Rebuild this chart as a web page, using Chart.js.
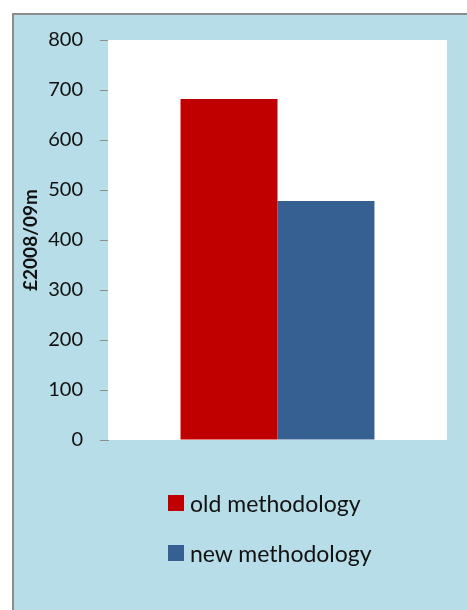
<!DOCTYPE html>
<html>
<head>
<meta charset="utf-8">
<script src="https://cdn.jsdelivr.net/npm/chart.js@4"></script>
<style>
  html, body { margin: 0; padding: 0; background: #fff; }
  #frame {
    position: absolute; left: 12px; top: 13px; width: 470px; height: 610px;
    background: #b7dde8; border-left: 2px solid #8c8c8c; border-top: 2px solid #8c8c8c;
  }
  #wrap { position: absolute; left: 0; top: 0; width: 467px; height: 610px; }
  #legend { position: absolute; left: 168px; top: 487px; font-family: Lato, "Open Sans", sans-serif; font-size: 23px; color: #111; }
  #legend div { display: flex; align-items: center; height: 32px; margin-bottom: 18px; }
  #legend span.box { width: 16px; height: 16px; margin-right: 6px; }
</style>
</head>
<body>
<div id="frame"></div>
<div id="wrap"><canvas id="c" width="467" height="610"></canvas></div>
<div id="legend"></div>
<script>
// ── DATA ─────────────────────────────────────────────
const categories = [""]
const seriesNames = ["old methodology", "new methodology"]
const oldValues = [682]
const newValues = [478]
const seriesColors = ["#c00000", "#376092"]
const yTicks = [0, 100, 200, 300, 400, 500, 600, 700, 800]

// white plot area behind the bars
const plotBg = {
  id: "plotBg",
  beforeDatasetsDraw(chart) {
    const a = chart.chartArea, ctx = chart.ctx
    ctx.save()
    ctx.fillStyle = "#ffffff"
    ctx.fillRect(a.left, a.top, a.right - a.left, a.bottom - a.top)
    ctx.restore()
  }
}

const chart = new Chart(document.getElementById("c"), {
  type: "bar",
  data: {
    labels: categories,
    datasets: [
      { label: seriesNames[0], data: oldValues, backgroundColor: seriesColors[0] },
      { label: seriesNames[1], data: newValues, backgroundColor: seriesColors[1] }
    ]
  },
  options: {
    responsive: false,
    animation: false,
    layout: { padding: { left: 15, top: 40, right: 20, bottom: 170 } },
    datasets: { bar: { categoryPercentage: 0.572, barPercentage: 1 } },
    plugins: { legend: { display: false }, tooltip: { enabled: false } },
    scales: {
      x: { display: false },
      y: {
        min: 0, max: 800,
        afterFit: s => { s.width = 93 },
        afterBuildTicks: s => { s.ticks = yTicks.map(v => ({ value: v })) },
        border: { display: true, color: "#8c8c8c", width: 1 },
        grid: { display: true, drawOnChartArea: false, drawTicks: true, tickLength: 8, color: "#8c8c8c" },
        ticks: { color: "#111", padding: 17, font: { family: "Lato, 'Open Sans', sans-serif", size: 20 } },
        title: {
          display: true, text: "£2008/09m", color: "#111",
          padding: { top: 4, bottom: 4 },
          font: { family: "Lato, 'Open Sans', sans-serif", size: 19, weight: "bold" }
        }
      }
    }
  },
  plugins: [plotBg]
})

// legend built from the chart's datasets
const leg = document.getElementById("legend")
chart.data.datasets.forEach(ds => {
  const row = document.createElement("div")
  const box = document.createElement("span")
  box.className = "box"
  box.style.background = ds.backgroundColor
  const txt = document.createElement("span")
  txt.textContent = ds.label
  row.appendChild(box)
  row.appendChild(txt)
  leg.appendChild(row)
})
</script>
</body>
</html>
